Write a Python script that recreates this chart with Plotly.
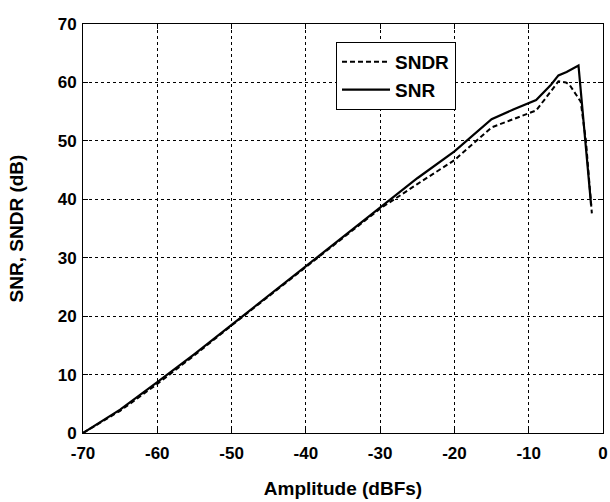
import plotly.graph_objects as go

amp_sndr = [-70, -65, -60, -55, -50, -45, -40, -35, -30, -25, -20, -15, -12, -9, -7, -6, -5, -4.5, -3, -2.3, -1.5]
sndr = [0, 3.8, 8.4, 13.3, 18.4, 23.4, 28.4, 33.4, 38.4, 42.6, 46.7, 52.3, 53.8, 55.2, 58.5, 60.2, 60.0, 59.6, 56.7, 50.0, 37.6]

amp_snr = [-70, -65, -60, -55, -50, -45, -40, -35, -30, -25, -20, -15, -12, -9, -7, -6, -4.9, -3.3, -1.6]
snr = [0, 4.0, 8.7, 13.5, 18.5, 23.5, 28.5, 33.5, 38.6, 43.6, 48.2, 53.7, 55.4, 57.0, 59.6, 61.2, 61.8, 62.9, 39.0]

x_ticks = [-70, -60, -50, -40, -30, -20, -10, 0]
y_ticks = [0, 10, 20, 30, 40, 50, 60, 70]

font = "Liberation Sans, Arial, sans-serif"

fig = go.Figure()
fig.add_trace(go.Scatter(x=amp_sndr, y=sndr, mode="lines", name="SNDR",
                         line=dict(color="black", width=2, dash="5px,3px")))
fig.add_trace(go.Scatter(x=amp_snr, y=snr, mode="lines", name="SNR",
                         line=dict(color="black", width=2.2)))

axis_common = dict(
    showline=True, linecolor="black", linewidth=1, mirror="ticks",
    ticks="inside", ticklen=5, tickcolor="black",
    showgrid=True, gridcolor="black", gridwidth=1, griddash="3px,3px",
    zeroline=False, automargin=False,
    tickfont=dict(family=font, size=17, color="black", weight="bold"),
)

fig.update_xaxes(range=[-70, 0], tickvals=x_ticks, ticktext=[str(v) for v in x_ticks],
                 ticklabelstandoff=5,
                 title=dict(text="Amplitude (dBFs)", font=dict(family=font, size=19, color="black", weight="bold"), standoff=19),
                 **axis_common)
fig.update_yaxes(range=[0, 70], tickvals=y_ticks, ticktext=[str(v) for v in y_ticks],
                 ticklabelstandoff=2,
                 title=dict(text="SNR, SNDR (dB)", font=dict(family=font, size=19, color="black", weight="bold"), standoff=29),
                 **axis_common)

fig.update_layout(
    width=610, height=502,
    margin=dict(l=83, r=7, t=24, b=69),
    plot_bgcolor="white", paper_bgcolor="white",
    showlegend=True,
    legend=dict(x=(336 - 83) / 520, y=1 - (42 - 24) / 409, xanchor="left", yanchor="top",
                bgcolor="white", bordercolor="black", borderwidth=1,
                font=dict(family=font, size=19, color="black", weight="bold"),
                itemwidth=48, tracegroupgap=0),
)

fig.write_html("out.html",
               config={"displayModeBar": False},
               post_script="document.body.style.margin='0';document.body.style.overflow='hidden';")
